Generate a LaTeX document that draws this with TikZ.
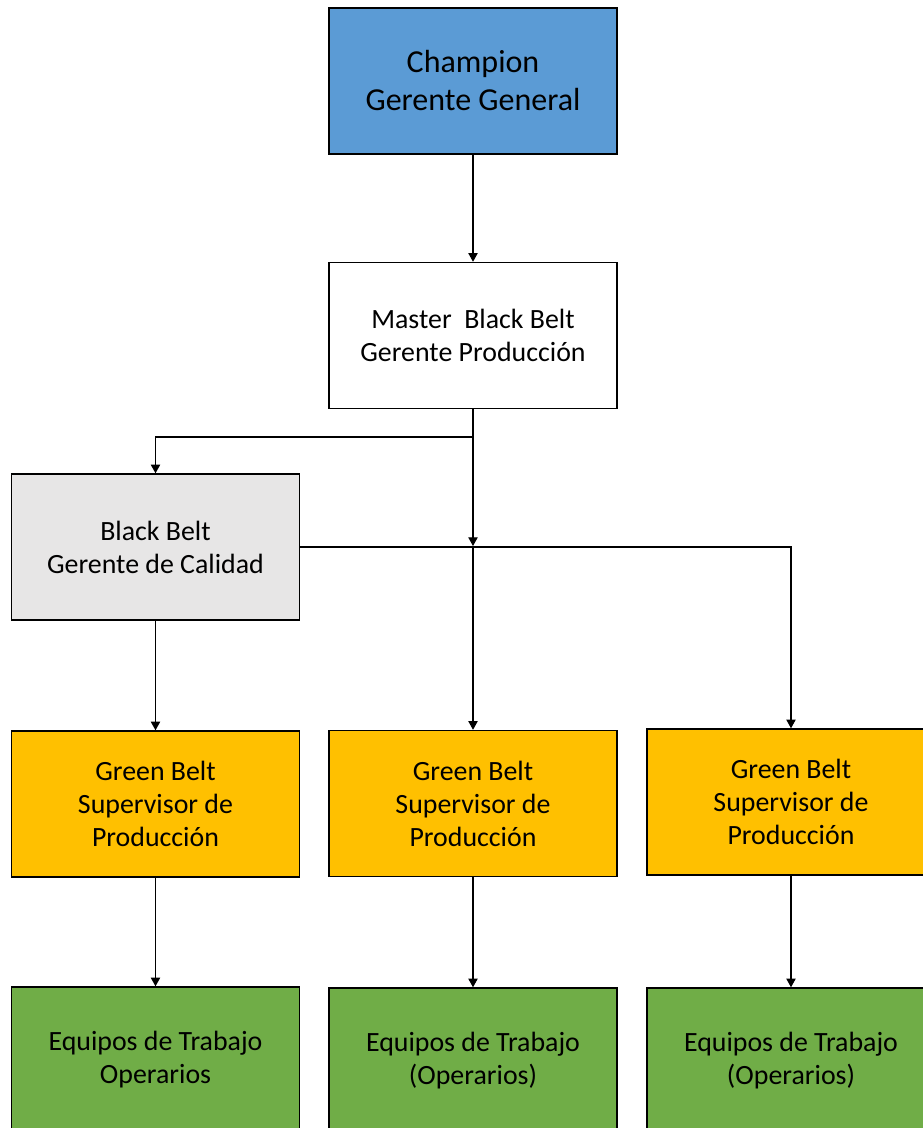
\documentclass[tikz,border=0pt]{standalone}
\usepackage{fontspec}
\setmainfont{Carlito}
\usetikzlibrary{arrows.meta,positioning}
\definecolor{champblue}{HTML}{5B9BD5}
\definecolor{bbgray}{HTML}{E7E6E6}
\definecolor{gbgold}{HTML}{FFC000}
\definecolor{teamgreen}{HTML}{70AD47}
\tikzstyle{link} = [line width=0.8pt,-{Triangle[width=7pt,length=6.5pt]}]
\tikzset{box/.style={rectangle,draw=black,line width=1.1pt,minimum width=216pt,minimum height=109.5pt,align=center,inner sep=2pt,font=\fontsize{20.9}{24.75}\selectfont}}

\begin{document}
\begin{tikzpicture}[x=0.75pt,y=-0.75pt]
    \path[clip] (0,0) rectangle (923,1128);
    \fill[white] (0,0) rectangle (923,1128);

    \node [box, fill=champblue, font=\fontsize{24}{28.5}\selectfont] (champion) at (473,81) {Champion\\Gerente General};
    \node [box, fill=white] (master) at (473,335.5) {Master~ Black Belt\\Gerente Producción};
    \node [box, fill=bbgray] (blackbelt) at (155.5,547) {Black Belt\\Gerente de Calidad};

    \node [box, fill=gbgold] (green1) at (155.5,804) {Green Belt\\Supervisor de\\Producción};
    \node [box, fill=gbgold] (green2) at (473,803.5) {Green Belt\\Supervisor de\\Producción};
    \node [box, fill=gbgold] (green3) at (791,802) {Green Belt\\Supervisor de\\Producción};

    \node [box, fill=teamgreen] (team1) at (155.5,1060) {Equipos de Trabajo\\Operarios};
    \node [box, fill=teamgreen] (team2) at (473,1061) {Equipos de Trabajo\\(Operarios)};
    \node [box, fill=teamgreen] (team3) at (791,1061) {Equipos de Trabajo\\(Operarios)};

    \coordinate (splitA) at (473,437);
    \coordinate (splitB) at (473,546);
    \coordinate (turnB) at (791,547);

    \draw [link] (champion) -- (master);
    \draw [link] (master.south) -- (splitA) -| (blackbelt.north);
    \draw [link] (splitA) -- (splitB);
    \draw [link] (splitB) -- (green2.north);
    \draw [link] (blackbelt.east) -- (turnB) -- (green3.north);
    \draw [link] (blackbelt) -- (green1);

    \draw [link] (green1) -- (team1);
    \draw [link] (green2) -- (team2);
    \draw [link] (green3) -- (team3);
\end{tikzpicture}
\end{document}
